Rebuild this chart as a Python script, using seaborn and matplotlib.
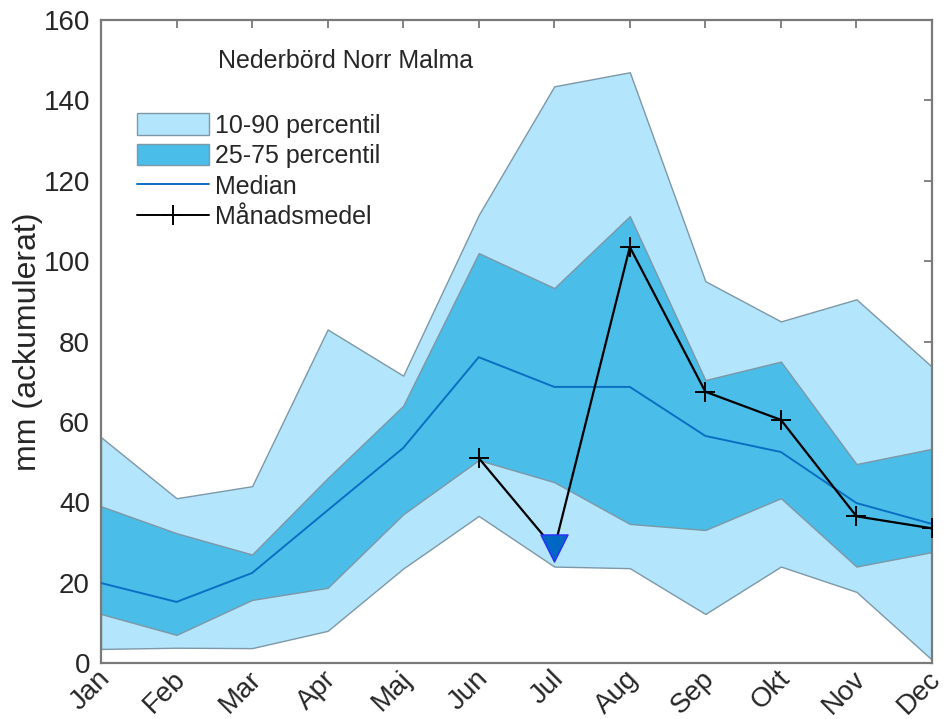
import numpy as np
import pandas as pd
import matplotlib
matplotlib.use("Agg")
import matplotlib.pyplot as plt
import matplotlib.transforms as mtransforms
import seaborn as sns
from matplotlib.patches import Patch
from matplotlib.lines import Line2D

# Monthly accumulated precipitation statistics (mm)
months = ["Jan", "Feb", "Mar", "Apr", "Maj", "Jun", "Jul", "Aug", "Sep", "Okt", "Nov", "Dec"]
p10 = [3.5, 3.8, 3.7, 8.0, 23.5, 36.6, 24.0, 23.6, 12.2, 24.0, 17.7, 0.8]
p25 = [12.2, 7.0, 15.7, 18.7, 37.0, 50.5, 45.0, 34.6, 33.1, 41.0, 24.0, 27.6]
median = [19.9, 15.2, 22.4, 38.0, 53.5, 76.1, 68.7, 68.7, 56.5, 52.5, 39.8, 34.6]
p75 = [39.0, 32.3, 27.0, 46.0, 64.0, 102.0, 93.3, 111.2, 70.4, 75.0, 49.5, 53.3]
p90 = [56.2, 41.0, 44.0, 83.0, 71.5, 111.5, 143.5, 147.0, 95.0, 85.0, 90.5, 73.7]
monthly_mean = [np.nan, np.nan, np.nan, np.nan, np.nan, 51.0, 28.5, 103.5, 67.5, 60.5, 36.5, 33.5]
current_month = "Jul"

df = pd.DataFrame({
    "month": months, "x": np.arange(len(months)),
    "p10": p10, "p25": p25, "median": median, "p75": p75, "p90": p90,
    "mean": monthly_mean,
})

sns.set_style("white")
plt.rcParams["font.family"] = ["Liberation Sans", "DejaVu Sans"]

LIGHT = "#B3E5FC"
DARK = "#4ABDE9"
EDGE = "#7d98a6"
MEDIAN = "#0A6FC2"
AXIS = "#7a7a7a"
TEXT = "#262626"

fig = plt.figure(figsize=(9.47, 7.19), dpi=100)
ax = fig.add_axes([101 / 947, 56 / 719, 831 / 947, 643 / 719])

ax.fill_between(df["x"], df["p10"], df["p90"], facecolor=LIGHT, edgecolor=EDGE,
                linewidth=1.0, zorder=1)
ax.fill_between(df["x"], df["p25"], df["p75"], facecolor=DARK, edgecolor=EDGE,
                linewidth=1.0, zorder=2)
sns.lineplot(data=df, x="x", y="median", ax=ax, color=MEDIAN, linewidth=1.4,
             zorder=3, legend=False)

# Monthly mean: line through all available months, '+' markers except for the
# current month, which gets a triangle instead
have_mean = df.dropna(subset=["mean"])
sns.lineplot(data=have_mean, x="x", y="mean", ax=ax, color="black",
             linewidth=1.6, zorder=4, legend=False)
past = have_mean[have_mean["month"] != current_month]
sns.scatterplot(data=past, x="x", y="mean", ax=ax, marker="+", s=225,
                color="black", linewidth=1.4, zorder=4, legend=False)
cur = df[df["month"] == current_month]
sns.scatterplot(data=cur, x="x", y="mean", ax=ax, marker="v", s=380,
                color="#0068C4", edgecolor="#2b2bff", linewidth=1.0, zorder=5,
                legend=False)

ax.set_xlim(0, len(months) - 1)
ax.set_ylim(0, 160)
ax.set_xticks(df["x"])
ax.set_xticklabels(months, rotation=45, ha="right", va="center", rotation_mode="anchor")
ax.set_yticks(np.arange(0, 161, 20))
ax.set_xlabel("")
ax.set_ylabel("mm (ackumulerat)", fontsize=23, color=TEXT, labelpad=0)

ax.tick_params(axis="both", which="both", direction="in", length=6, width=1.3,
               color=AXIS, labelsize=20, labelcolor=TEXT, top=True, right=True, pad=8)
ax.tick_params(axis="x", pad=10)
shift = mtransforms.ScaledTranslation(5 / 100, 2 / 100, fig.dpi_scale_trans)
for lab in ax.get_xticklabels():
    lab.set_transform(lab.get_transform() + shift)
for sp in ax.spines.values():
    sp.set_visible(True)
    sp.set_color(AXIS)
    sp.set_linewidth(1.6)

ax.text(0.1408, 0.936, "Nederbörd Norr Malma", transform=ax.transAxes, fontsize=18,
        color=TEXT, ha="left", va="center")

handles = [
    Patch(facecolor=LIGHT, edgecolor=EDGE, linewidth=1.0),
    Patch(facecolor=DARK, edgecolor=EDGE, linewidth=1.0),
    Line2D([], [], color=MEDIAN, linewidth=1.4),
    Line2D([], [], color="black", linewidth=1.4, marker="+", markersize=15,
           markeredgewidth=1.4),
]
labels = ["10-90 percentil", "25-75 percentil", "Median", "Månadsmedel"]
leg = ax.legend(handles, labels, loc="upper left", bbox_to_anchor=(0.043, 0.855),
                frameon=False, fontsize=18, handlelength=2.9, handleheight=0.95,
                handletextpad=0.25, labelspacing=0.25, borderpad=0, borderaxespad=0)
for t in leg.get_texts():
    t.set_color(TEXT)

fig.savefig("out.png", dpi=100)
